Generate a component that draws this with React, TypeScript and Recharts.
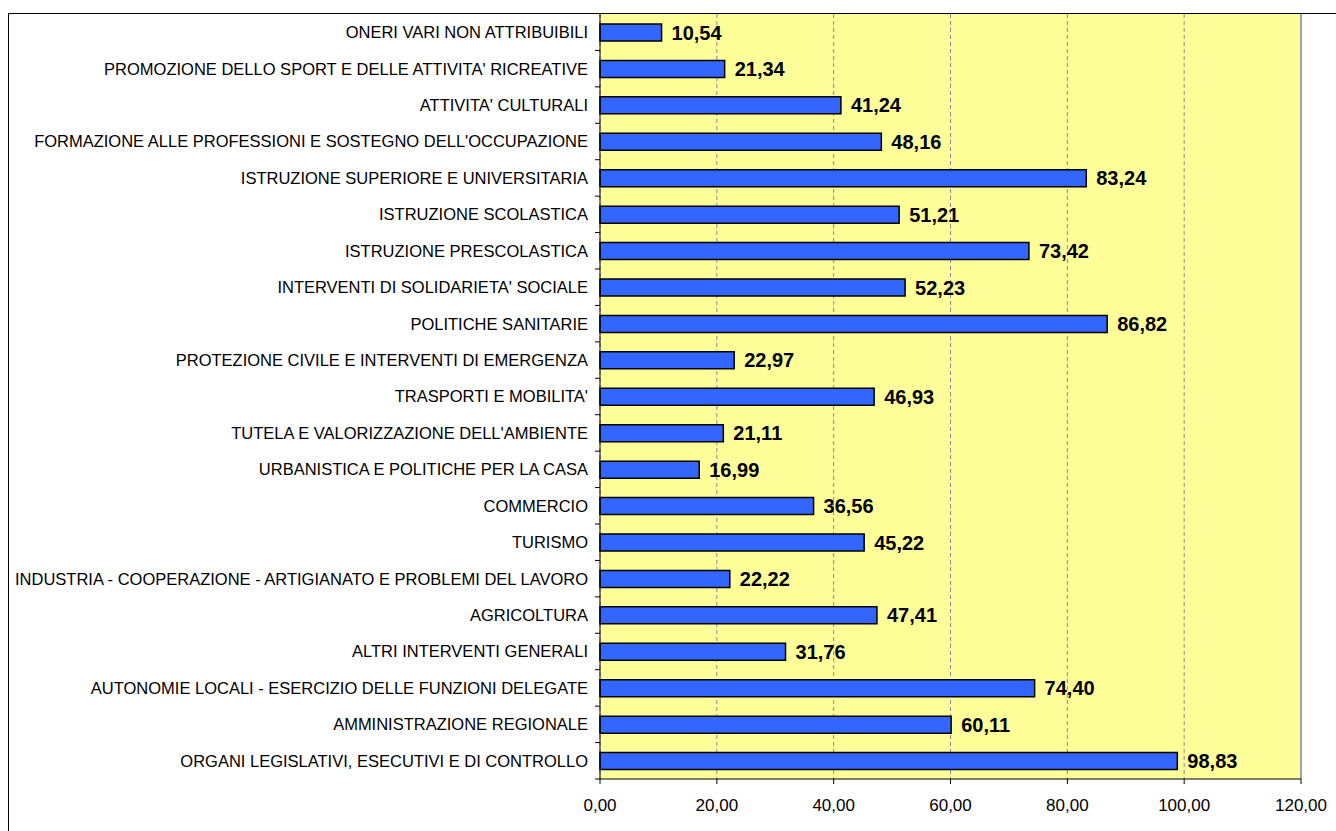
import React from "react";
import { BarChart, Bar, XAxis, YAxis, CartesianGrid, LabelList, ReferenceLine } from "recharts";

const categories = [
  "ONERI VARI NON ATTRIBUIBILI",
  "PROMOZIONE DELLO SPORT E DELLE ATTIVITA' RICREATIVE",
  "ATTIVITA' CULTURALI",
  "FORMAZIONE ALLE PROFESSIONI E SOSTEGNO DELL'OCCUPAZIONE",
  "ISTRUZIONE SUPERIORE E UNIVERSITARIA",
  "ISTRUZIONE SCOLASTICA",
  "ISTRUZIONE PRESCOLASTICA",
  "INTERVENTI DI SOLIDARIETA' SOCIALE",
  "POLITICHE SANITARIE",
  "PROTEZIONE CIVILE E INTERVENTI DI EMERGENZA",
  "TRASPORTI E MOBILITA'",
  "TUTELA E VALORIZZAZIONE DELL'AMBIENTE",
  "URBANISTICA E POLITICHE PER LA CASA",
  "COMMERCIO",
  "TURISMO",
  "INDUSTRIA - COOPERAZIONE - ARTIGIANATO E PROBLEMI DEL LAVORO",
  "AGRICOLTURA",
  "ALTRI INTERVENTI GENERALI",
  "AUTONOMIE LOCALI - ESERCIZIO DELLE FUNZIONI DELEGATE",
  "AMMINISTRAZIONE REGIONALE",
  "ORGANI LEGISLATIVI, ESECUTIVI E DI CONTROLLO",
];

const values = [
  10.54, 21.34, 41.24, 48.16, 83.24, 51.21, 73.42, 52.23, 86.82, 22.97, 46.93,
  21.11, 16.99, 36.56, 45.22, 22.22, 47.41, 31.76, 74.4, 60.11, 98.83,
];

const xTicks = [0, 20, 40, 60, 80, 100, 120];

const data = categories.map((name, i) => ({ name, value: values[i] }));

const CHART_W = 1327;
const CHART_H = 817;
const Y_AXIS_W = 591;
const X_AXIS_H = 52;
const PLOT_H = CHART_H - X_AXIS_H;
const BAND = PLOT_H / categories.length;
const FONT = "Arial, 'Liberation Sans', sans-serif";

const fmt = (v: number) => v.toFixed(2).replace(".", ",");

// label text + tick mark on the band boundary (excel style)
function CategoryTick(props: any) {
  const { y, payload } = props;
  return (
    <g>
      <line x1={Y_AXIS_W - 5} x2={Y_AXIS_W} y1={y + BAND / 2} y2={y + BAND / 2} stroke="#000" />
      <text
        x={Y_AXIS_W - 12}
        y={y}
        dy="0.355em"
        textAnchor="end"
        fontSize={16.5}
        fontFamily={FONT}
        fill="#000"
      >
        {payload.value}
      </text>
    </g>
  );
}

export default function App() {
  return (
    <div
      style={{
        position: "fixed",
        left: 8,
        top: 13,
        width: 1330,
        height: 820,
        borderTop: "1px solid #000",
        borderLeft: "1px solid #000",
        background: "#fff",
      }}
    >
      <BarChart
        width={CHART_W}
        height={CHART_H}
        data={data}
        layout="vertical"
        margin={{ top: 0, right: 35, left: 0, bottom: 0 }}
      >
        <CartesianGrid
          horizontal={false}
          fill="#FFFF99"
          stroke="#8888a0"
          strokeDasharray="4 3"
        />
        <XAxis
          type="number"
          domain={[0, 120]}
          ticks={xTicks}
          tickFormatter={fmt}
          height={X_AXIS_H}
          tickSize={5}
          tickMargin={15}
          stroke="#000"
          tick={{ fill: "#000", fontSize: 17, fontFamily: FONT }}
        />
        <YAxis
          type="category"
          dataKey="name"
          width={Y_AXIS_W}
          tickLine={false}
          stroke="#000"
          interval={0}
          tick={<CategoryTick />}
        />
        <ReferenceLine x={120} stroke="#a0a0a0" strokeWidth={2} />
        <Bar
          dataKey="value"
          fill="#3366FF"
          stroke="#000"
          strokeWidth={1.5}
          barSize={17}
          isAnimationActive={false}
        >
          <LabelList
            dataKey="value"
            position="right"
            offset={10}
            formatter={(v: any) => fmt(Number(v))}
            style={{ fontSize: 20, fontWeight: "bold", fontFamily: FONT, fill: "#000" }}
          />
        </Bar>
      </BarChart>
    </div>
  );
}
